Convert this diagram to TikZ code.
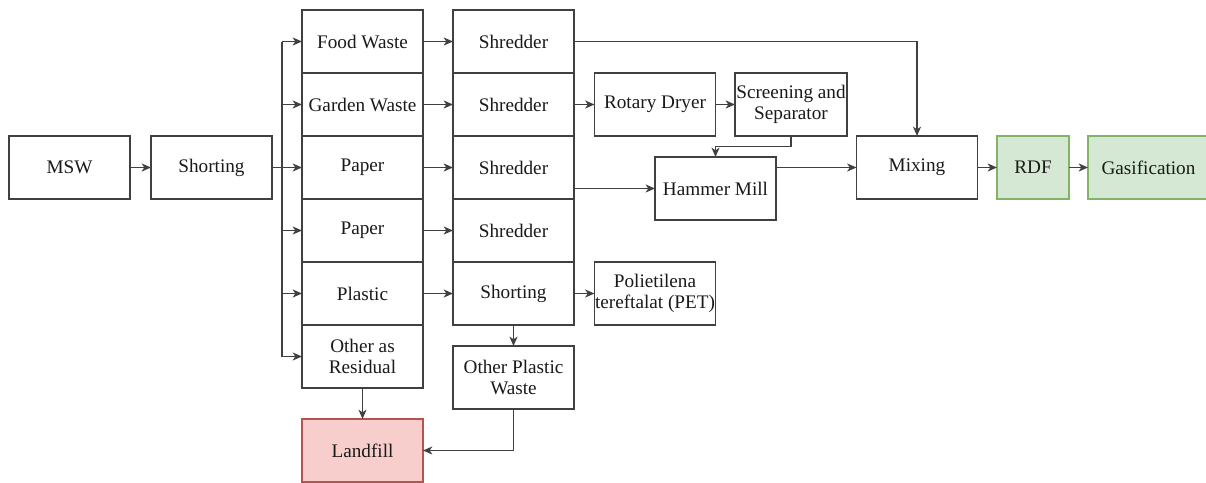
\documentclass[tikz,border=0pt]{standalone}
\usepackage{fontspec}
\setmainfont{Liberation Serif}
\usetikzlibrary{arrows.meta}
\definecolor{lineC}{HTML}{404040}
\definecolor{txtC}{HTML}{1A1A1A}
\definecolor{gfill}{HTML}{D5E8D4}
\definecolor{gdraw}{HTML}{82B366}
\definecolor{rfill}{HTML}{F8CECC}
\definecolor{rdraw}{HTML}{B85450}
\begin{document}
\begin{tikzpicture}[x=0.75pt,y=-0.75pt,
  box/.style={draw=lineC, line width=1pt, fill=white, text=txtC,
    minimum width=90.75pt, minimum height=47.25pt, inner sep=0pt, outer sep=0pt,
    align=center, font=\fontsize{14.4pt}{16.3pt}\selectfont},
  gbox/.style={box, draw=gdraw, fill=gfill},
  rbox/.style={box, draw=rdraw, fill=rfill},
  arr/.style={draw=lineC, line width=1.15pt, -{Stealth[length=7pt,width=6pt,inset=2pt]}},
  ln/.style={draw=lineC, line width=1.15pt}]
\useasboundingbox (0,0) rectangle (1206,482);
% nodes
\node[box] (msw) at (69.5,167.5) {MSW};
\node[box] (sort1) at (211.5,167.5) {Shorting};
\node[box] (food) at (362.5,41.5) {Food Waste};
\node[box] (garden) at (362.5,104.5) {Garden Waste};
\node[box] (paperA) at (362.5,167.5) {Paper};
\node[box] (paperB) at (362.5,230.5) {Paper};
\node[box] (plastic) at (362.5,293.5) {Plastic};
\node[box] (resid) at (362.5,356.5) {Other as\\Residual};
\node[box] (shr1) at (513.5,41.5) {Shredder};
\node[box] (shr2) at (513.5,104.5) {Shredder};
\node[box] (shr3) at (513.5,167.5) {Shredder};
\node[box] (shr4) at (513.5,230.5) {Shredder};
\node[box] (sort2) at (513.5,293.5) {Shorting};
\node[box] (opw) at (513.5,377.5) {Other Plastic\\Waste};
\node[box] (dryer) at (655,104.5) {Rotary Dryer};
\node[box, minimum width=84pt] (screen) at (791,104.5) {Screening and\\Separator};
\node[box] (hammer) at (715.5,188.5) {Hammer Mill};
\node[box] (mix) at (917,167.5) {Mixing};
\node[gbox, minimum width=54pt] (rdf) at (1033,167.5) {RDF};
\node[gbox] (gas) at (1148.5,167.5) {Gasification};
\node[box] (pet) at (655,293.5) {Polietilena\\tereftalat (PET)};
\node[rbox] (landfill) at (362.5,450.5) {Landfill};
% bus
\coordinate (bt) at (282,41.5);
\coordinate (bb) at (282,356.5);
\draw[ln] (bt) -- (bb);
\draw[arr] (msw) -- (sort1);
\draw[arr] (sort1) -- (paperA);
\draw[arr] (bt) -- (food.west);
\draw[arr] (bt |- garden.west) -- (garden.west);
\draw[arr] (bt |- paperB.west) -- (paperB.west);
\draw[arr] (bt |- plastic.west) -- (plastic.west);
\draw[arr] (bb) -- (resid.west);
% column 1 to column 2
\draw[arr] (food) -- (shr1);
\draw[arr] (garden) -- (shr2);
\draw[arr] (paperA) -- (shr3);
\draw[arr] (paperB) -- (shr4);
\draw[arr] (plastic) -- (sort2);
% right side
\draw[arr] (shr1.east) -| (mix.north);
\draw[arr] (shr2) -- (dryer);
\draw[arr] (dryer) -- (screen);
\draw[arr] (screen.south) -- ++(0,10.7) -| (hammer.north);
\draw[arr] (shr3.east |- hammer.west) -- (hammer.west);
\draw[arr] (hammer.east |- mix.west) -- (mix.west);
\draw[arr] (mix) -- (rdf);
\draw[arr] (rdf) -- (gas);
\draw[arr] (sort2) -- (pet);
\draw[arr] (sort2) -- (opw);
\draw[arr] (resid) -- (landfill);
\draw[arr] (opw.south) |- (landfill.east);
\end{tikzpicture}
\end{document}
